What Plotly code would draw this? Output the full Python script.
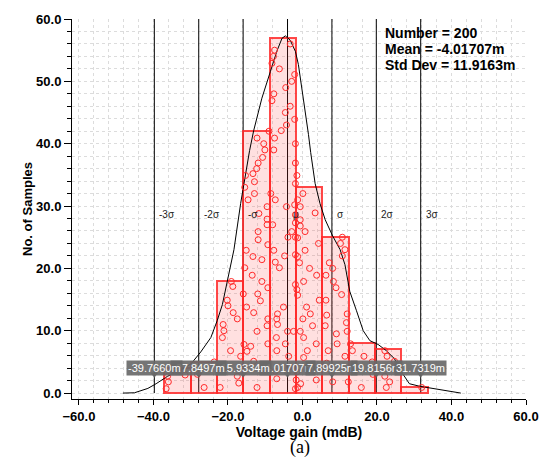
import plotly.graph_objects as go

# ---------------- data ----------------
bin_edges = [-37.1, -30.03, -22.96, -15.89, -8.82, -1.75, 5.32, 12.39, 19.46, 26.53, 33.6]
counts = [4, 5, 18, 42, 57, 33, 25, 8, 7, 1]

sigma_x = [-39.766, -27.8497, -15.9334, -4.01707, 7.89925, 19.8156, 31.7319]
sigma_names = ["-3σ", "-2σ", "-σ", "μ", "σ", "2σ", "3σ"]
sigma_values = ["-39.7660m", "-27.8497m", "-15.9334m", "-4.01707m",
                "7.89925m", "19.8156m", "31.7319m"]

curve_x = [-48.2, -45.1, -41.5, -39.3, -36.2, -32.6, -29.9, -27.3, -24.6, -22.9,
           -21.5, -20.6, -19.7, -18.4, -16.6, -15.7, -15.1, -14.2, -13.1, -10.9,
           -8.6, -6.9, -5.5, -4.6, -3.3, -1.9, -1.1, 0.3, 1.6, 2.2,
           3.4, 4.7, 6.1, 8.1, 10.1, 11.4, 12.7, 14.5, 16.3, 18.1,
           20.3, 22.5, 24.7, 26.9, 28.7, 31.4, 34.9, 38.5, 42.5]
curve_y = [0.0, 0.05, 0.75, 1.5, 2.7, 3.7, 4.7, 6.6, 8.9, 11.6,
           14.2, 16.9, 19.5, 23.0, 30.4, 33.6, 36.2, 38.9, 42.1, 47.3,
           51.6, 54.8, 56.9, 57.3, 56.6, 54.8, 52.7, 47.3, 41.5, 38.6,
           33.6, 30.4, 27.8, 25.2, 23.0, 20.6, 16.3, 13.2, 10.0, 8.4,
           7.8, 6.8, 5.5, 3.1, 1.5, 1.1, 0.75, 0.4, 0.0]

sample_x = [-7.5, -7.8, -8.2, -6.2, -2.1, -2.9, -4.5, -7.7, -8.2, -3.3,
            -4.6, -2.1, -4.3, -5.7, -9.0, -7.5, -12.2, -10.4, -7.7, -10.1,
            -1.9, -3.3, -10.7, -11.9, -12.3, -13.3, -15.3, -12.9, -15.5, -12.9,
            -14.6, -8.5, -7.3, -9.5, -4.3, -2.1, -11.7, -9.5, -9.5, -8.0,
            -1.9, -11.9, -2.9, -3.9, -1.9, -11.9, -9.3, -7.7, -15.1, -13.3,
            -4.8, -7.3, -1.9, -10.9, -15.5, -6.2, -13.5, -10.9, -19.1, -18.7,
            -15.9, -12.0, -9.3, -20.2, -20.0, -15.0, -11.3, -5.1, -18.6, -17.5,
            -13.1, -9.3, -6.7, -21.3, -21.1, -21.5, -12.2, -9.5, -6.9, -6.7,
            -19.3, -15.7, -13.9, -14.9, -9.3, -7.0, -4.6, -6.9, -4.0, -2.4,
            -16.6, -13.1, -9.9, -3.7, -23.7, -31.5, -28.2, -36.2, -36.0, -36.6,
            -26.4, -22.1, -17.5, -17.1, -12.2, -7.3, -6.9, -1.9, -1.7, -3.5,
            -1.9, -1.5, -1.9, 0.1, -1.3, 3.4, -0.6, -1.9, -0.6, -0.6,
            0.7, -1.3, 4.3, 0.7, -1.3, -0.8, 1.9, 7.2, 8.1, 10.7,
            10.2, 11.4, 10.7, 3.8, 6.3, 0.3, -1.9, -1.5, -1.3, 4.5,
            6.3, 1.1, 2.1, 0.1, 6.5, 2.7, -0.6, 6.1, 12.0, 11.8,
            12.0, 8.3, 9.0, 10.5, 9.1, 0.3, 3.7, 6.9, 1.3, 9.3,
            12.9, 13.4, 11.4, 16.5, 22.1, 22.7, 18.7, 0.3, 6.5, -1.5,
            3.7, -0.5, -1.3, 8.1, 12.3, 15.8, 18.9, 22.1, 23.4, 22.5,
            24.7, 32.0]
sample_y = [55.0, 54.0, 52.9, 52.0, 51.1, 50.0, 49.0, 48.0, 46.9, 46.0,
            45.0, 43.9, 43.0, 42.1, 42.0, 40.9, 40.9, 40.0, 39.0, 39.0,
            40.0, 56.0, 37.8, 36.9, 36.0, 35.2, 34.9, 33.9, 33.0, 32.0,
            31.0, 32.0, 31.0, 29.9, 29.9, 30.2, 28.8, 27.9, 27.0, 27.0,
            27.3, 25.9, 25.9, 25.0, 25.0, 24.6, 23.8, 22.9, 22.9, 21.9,
            22.0, 21.0, 22.2, 21.4, 20.1, 20.1, 18.9, 17.9, 17.9, 17.1,
            15.9, 15.9, 16.9, 14.9, 14.0, 13.8, 14.8, 13.8, 12.9, 11.9,
            12.9, 11.9, 12.7, 11.0, 10.0, 8.9, 9.9, 10.8, 11.9, 11.0,
            6.8, 7.8, 7.5, 6.7, 7.9, 8.9, 7.9, 6.8, 9.9, 9.9,
            5.9, 5.1, 4.4, 5.9, 5.0, 2.9, 3.0, 2.7, 1.8, 0.7,
            0.9, 0.9, 2.7, 1.6, 0.9, 3.5, 2.3, 0.7, 2.1, 4.2,
            36.9, 34.9, 33.6, 32.0, 31.0, 28.9, 29.9, 28.6, 27.8, 26.8,
            25.9, 24.9, 24.0, 22.9, 21.9, 20.9, 20.0, 20.9, 20.0, 25.0,
            24.0, 23.0, 22.0, 18.9, 18.9, 17.9, 17.4, 16.6, 15.7, 14.9,
            14.9, 13.8, 12.7, 11.9, 12.5, 10.8, 9.9, 10.8, 12.7, 11.3,
            9.9, 17.9, 16.9, 15.8, 9.5, 8.9, 7.9, 6.8, 6.8, 7.9,
            7.9, 6.8, 5.9, 5.9, 6.8, 5.9, 5.0, 5.7, 4.8, 3.4,
            2.1, 1.5, 0.9, 1.8, 1.8, 0.9, 3.0, 2.7, 1.8, 0.9,
            5.1, 0.9]

stats_lines = ["Number = 200", "Mean = -4.01707m", "Std Dev = 11.9163m"]
stats_y = [57.7, 55.2, 52.6]
stats_x = 21.6

x_ticks = [-60, -40, -20, 0, 20, 40, 60]
y_ticks = [0, 10, 20, 30, 40, 50, 60]

# ---------------- figure ----------------
centers = [(bin_edges[i] + bin_edges[i + 1]) / 2 for i in range(len(counts))]
widths = [bin_edges[i + 1] - bin_edges[i] for i in range(len(counts))]

fig = go.Figure()

fig.add_trace(go.Bar(
    x=centers, y=counts, width=widths,
    marker=dict(color="rgba(255,70,70,0.17)",
                line=dict(color="rgba(255,40,40,0.85)", width=2)),
    hoverinfo="skip", showlegend=False))

fig.add_trace(go.Scatter(
    x=curve_x, y=curve_y, mode="lines",
    line=dict(color="black", width=1), showlegend=False, hoverinfo="skip"))

fig.add_trace(go.Scatter(
    x=sample_x, y=sample_y, mode="markers",
    marker=dict(symbol="circle-open", size=6, color="#ff2a2a",
                line=dict(width=1, color="#ff2a2a")),
    showlegend=False, hoverinfo="skip"))

# little pointers under the value labels
fig.add_trace(go.Scatter(
    x=sigma_x, y=[3.0] * len(sigma_x), mode="markers",
    marker=dict(symbol="triangle-down", size=7, color="rgba(100,100,100,0.9)"),
    showlegend=False, hoverinfo="skip"))

shapes = []
for sx in sigma_x:
    shapes.append(dict(type="line", xref="x", yref="y", x0=sx, x1=sx, y0=0, y1=60,
                       line=dict(color="black", width=1), layer="between"))

annotations = []
for sx, nm in zip(sigma_x, sigma_names):
    annotations.append(dict(x=sx, y=28.6, xref="x", yref="y", text=nm,
                            showarrow=False, xanchor="left", xshift=3,
                            font=dict(family="Liberation Sans", size=10, color="#222")))

order = [3, 2, 1, 0, 4, 5, 6]
for i in order:
    annotations.append(dict(x=sigma_x[i], y=4.0, xref="x", yref="y", text=sigma_values[i],
                            showarrow=False, xanchor="center", yanchor="middle",
                            bgcolor="rgba(105,105,105,0.92)", borderpad=1,
                            font=dict(family="Liberation Sans", size=11, color="white")))

for t, yy in zip(stats_lines, stats_y):
    annotations.append(dict(x=stats_x, y=yy, xref="x", yref="y", text=t,
                            showarrow=False, xanchor="left", yanchor="middle",
                            font=dict(family="Liberation Sans", size=14, color="black",
                                      weight="bold")))

annotations.append(dict(x=0.503, y=-0.127, xref="paper", yref="paper", text="(a)",
                        showarrow=False, xanchor="center", yanchor="middle",
                        font=dict(family="Liberation Serif", size=18, color="black")))

grid_col = "#dcdcdc"
tick_font = dict(family="Liberation Sans", size=13, color="black", weight="bold")

fig.update_layout(
    width=551, height=461,
    margin=dict(l=72, r=22, t=15, b=62),
    paper_bgcolor="white", plot_bgcolor="white",
    bargap=0,
    shapes=shapes, annotations=annotations,
    xaxis=dict(
        range=[-61.87, 60.0], tickvals=x_ticks, tickformat=".1f",
        showline=True, linecolor="black", linewidth=1,
        ticks="outside", ticklen=5, tickcolor="black",
        showgrid=True, gridcolor=grid_col, griddash="dot", gridwidth=1,
        zeroline=False, tickfont=tick_font,
        minor=dict(dtick=4, ticks="outside", ticklen=3, tickcolor="black",
                   showgrid=True, gridcolor=grid_col, griddash="dot"),
        title=dict(text="Voltage gain (mdB)", standoff=0,
                   font=dict(family="Liberation Sans", size=14, color="black",
                             weight="bold")),
    ),
    yaxis=dict(
        range=[-0.95, 60.0], tickvals=y_ticks, tickformat=".1f",
        showline=True, linecolor="black", linewidth=1,
        ticks="outside", ticklen=7, tickcolor="black",
        showgrid=True, gridcolor=grid_col, griddash="dot", gridwidth=1,
        zeroline=False, tickfont=tick_font,
        minor=dict(dtick=2, ticks="outside", ticklen=4, tickcolor="black",
                   showgrid=True, gridcolor=grid_col, griddash="dot"),
        title=dict(text="No. of Samples", standoff=0,
                   font=dict(family="Liberation Sans", size=13, color="black",
                             weight="bold")),
    ),
)

fig.write_html("out.html")
